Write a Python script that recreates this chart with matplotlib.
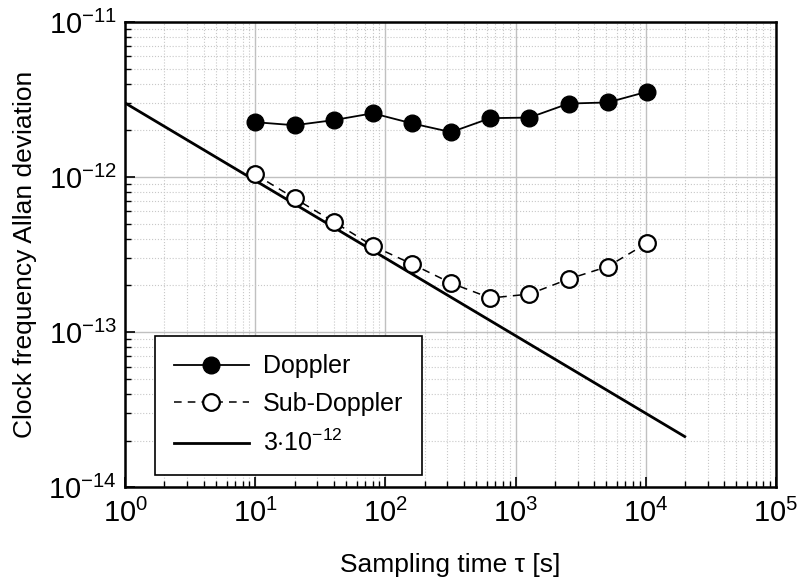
import matplotlib
matplotlib.use("Agg")
import matplotlib.pyplot as plt
import numpy as np

plt.rcParams['font.family'] = ['Liberation Sans', 'DejaVu Sans']
plt.rcParams['mathtext.fontset'] = 'custom'
plt.rcParams['mathtext.rm'] = 'Liberation Sans'
plt.rcParams['mathtext.it'] = 'Liberation Sans:italic'
plt.rcParams['mathtext.bf'] = 'Liberation Sans:bold'
plt.rcParams['axes.unicode_minus'] = False

tau = [10, 20, 40, 80, 160, 320, 640, 1280, 2560, 5120, 10240]
doppler = [2.26e-12, 2.16e-12, 2.33e-12, 2.58e-12, 2.22e-12, 1.95e-12,
           2.40e-12, 2.42e-12, 2.98e-12, 3.03e-12, 3.55e-12]
sub_doppler = [1.04e-12, 7.3e-13, 5.15e-13, 3.6e-13, 2.75e-13, 2.07e-13,
               1.66e-13, 1.76e-13, 2.2e-13, 2.65e-13, 3.75e-13]

fit_tau = np.array([1, 2e4])
fit = 3e-12 / np.sqrt(fit_tau)

fig = plt.figure(figsize=(7.98, 5.8), dpi=100)
ax = fig.add_axes([0.157, 0.160, 0.815, 0.802])

ax.plot(tau, doppler, '-o', color='black', lw=1.3, ms=12,
        mfc='black', mec='black', label='Doppler', zorder=3)
ax.plot(tau, sub_doppler, '--o', color='black', lw=1.1, ms=12,
        mfc='white', mec='black', mew=1.6, dashes=(5, 4), label='Sub-Doppler', zorder=3)
ax.plot(fit_tau, fit, '-', color='black', lw=2.0, label=r'$3{\cdot}10^{-12}$', zorder=2)

ax.set_xscale('log')
ax.set_yscale('log')
ax.set_xlim(1, 1e5)
ax.set_ylim(1e-14, 1e-11)

ax.grid(which='major', color='#c0c0c0', lw=1.0, ls='-')
ax.grid(which='minor', color='#c8c8c8', lw=0.8, ls=':')
ax.set_axisbelow(True)

ax.tick_params(which='both', direction='in', labelsize=21)
ax.tick_params(which='major', length=7, width=1.2)
ax.tick_params(which='minor', length=4, width=1.0)
ax.tick_params(axis='x', pad=8)
ax.tick_params(axis='y', pad=6)
for s in ax.spines.values():
    s.set_linewidth(1.8)

ax.set_xlabel('Sampling time τ [s]', fontsize=19, labelpad=18)
ax.set_ylabel('Clock frequency Allan deviation', fontsize=19, labelpad=8)

leg = ax.legend(loc='lower left', bbox_to_anchor=(0.046, 0.026), fontsize=18,
                fancybox=False, edgecolor='black', framealpha=1,
                handlelength=3.0, borderpad=0.75, labelspacing=0.55,
                handletextpad=0.55, borderaxespad=0)
leg.get_frame().set_linewidth(1.2)

fig.savefig('out.png', dpi=100)
